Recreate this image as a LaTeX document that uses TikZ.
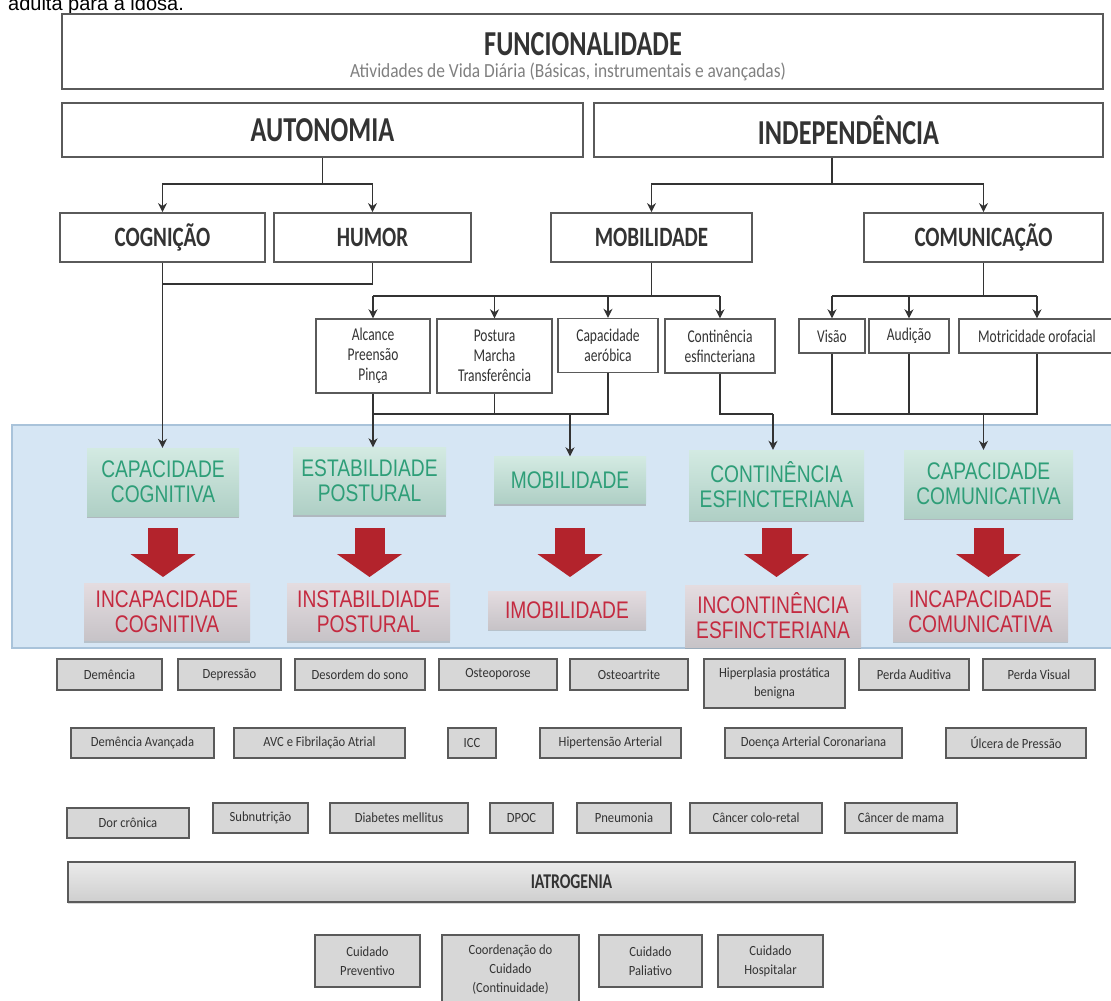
\documentclass[tikz,border=0pt]{standalone}
\usepackage{fontspec}
\setmainfont{Carlito}
\newfontfamily\condf[FakeStretch=0.75]{Carlito}
\newfontfamily\subf[FakeStretch=0.87]{Carlito}
\newfontfamily\grayf[FakeStretch=0.9]{Carlito}
\newfontfamily\narrowf[FakeStretch=0.8]{Liberation Sans}
\newfontfamily\arialf{Liberation Sans}
\usetikzlibrary{shadows,arrows.meta}
\definecolor{edge}{HTML}{5A5A5A}
\definecolor{ink}{HTML}{333333}
\definecolor{bluebg}{HTML}{D6E6F4}
\definecolor{blueedge}{HTML}{A9C3DA}
\definecolor{grntxt}{HTML}{2E9E78}
\definecolor{grntop}{HTML}{D3EAE2}
\definecolor{grnbot}{HTML}{AFCFC5}
\definecolor{redtxt}{HTML}{C42A40}
\definecolor{redtop}{HTML}{E4DCE0}
\definecolor{redbot}{HTML}{C7C3C7}
\definecolor{arrred}{HTML}{B3232C}
\definecolor{graybox}{HTML}{D7D7D7}
\tikzset{
  tb/.style={draw=edge, line width=1.8pt, fill=white, inner sep=0pt,
    drop shadow={shadow xshift=1.2pt, shadow yshift=-1.2pt, opacity=0.3}},
  hd/.style={font=\condf\fontsize{35}{36}\selectfont\bfseries, text=ink},
  hd2/.style={font=\condf\fontsize{28}{30}\selectfont\bfseries, text=ink},
  sb/.style={draw=edge, line width=1.4pt, fill=white, inner sep=0pt, align=center,
    font=\condf\fontsize{18}{20}\selectfont, text=ink},
  gb/.style={draw=edge, line width=1.7pt, fill=graybox, inner sep=0pt, align=center,
    font=\grayf\fontsize{14}{19}\selectfont, text=ink,
    drop shadow={shadow xshift=1pt, shadow yshift=-1pt, opacity=0.25}},
  grn/.style={inner sep=0pt, top color=grntop, bottom color=grnbot, align=center,
    text=grntxt, font=\narrowf\fontsize{24}{25}\selectfont,
    drop shadow={shadow xshift=0pt, shadow yshift=-2pt, opacity=0.45}},
  rd/.style={inner sep=0pt, top color=redtop, bottom color=redbot, align=center,
    text=redtxt, font=\narrowf\fontsize{24}{25}\selectfont,
    drop shadow={shadow xshift=0pt, shadow yshift=-2pt, opacity=0.35}},
  ln/.style={line width=1.4pt, draw=ink},
  arr/.style={ln, -{Stealth[length=9pt,width=9pt]}},
  barr/.style={line width=30pt, draw=arrred, -{Triangle[width=64pt,length=23pt]}},
}
\begin{document}
\begin{tikzpicture}[x=1pt,y=-1pt]
\useasboundingbox (0,0) rectangle (1111,1001);
% caption fragment
\node[anchor=base west, inner sep=0pt, font=\arialf\fontsize{20}{22}\selectfont] (cap) at (8,10) {adulta para a idosa.};

% top level
\node[tb, minimum width=1041, minimum height=75] (fun) at (582.5,51.5) {};
\node[font=\condf\fontsize{35}{36}\selectfont\bfseries, text=ink, inner sep=0pt] (funT) at (583,44) {FUNCIONALIDADE};
\node[inner sep=0pt, font=\subf\fontsize{20}{22}\selectfont, text=black!50] (funS) at (568,72) {Atividades de Vida Diária (Básicas, instrumentais e avançadas)};

\node[tb, hd, minimum width=521, minimum height=54] (auto) at (322.5,130) {AUTONOMIA};
\node[tb, hd, minimum width=509, minimum height=54] (indep) at (848.5,130) {INDEPENDÊNCIA};

\node[tb, hd2, minimum width=205, minimum height=49] (cog) at (162.5,237.5) {COGNIÇÃO};
\node[tb, hd2, minimum width=197, minimum height=49] (hum) at (372.5,237.5) {HUMOR};
\node[tb, hd2, minimum width=201, minimum height=49] (mob) at (651.5,237.5) {MOBILIDADE};
\node[tb, hd2, minimum width=239, minimum height=49] (com) at (983.5,237.5) {COMUNICAÇÃO};

% sub boxes
\node[sb, minimum width=114, minimum height=74] (alc) at (373,356) {Alcance\\Preensão\\Pinça};
\node[sb, minimum width=115, minimum height=74] (pos) at (494.5,356) {Postura\\Marcha\\Transferência};
\node[sb, minimum width=100, minimum height=54] (aer) at (608,345.5) {Capacidade\\aeróbica};
\node[sb, minimum width=110, minimum height=54] (cont) at (720,346) {Continência\\esfincteriana};
\node[sb, minimum width=66, minimum height=34] (vis) at (832,336) {Visão};
\node[sb, minimum width=80, minimum height=34] (aud) at (909,336) {Audição};
\node[sb, minimum width=156, minimum height=34] (mot) at (1037,336) {Motricidade orofacial};

% blue band
\fill[bluebg, draw=blueedge, line width=1.2pt] (12,425) rectangle (1113,648);

\node[grn, minimum width=152, minimum height=68] (capcog) at (163,482) {CAPACIDADE\\COGNITIVA};
\node[grn, minimum width=153, minimum height=67] (estab) at (369.5,481) {ESTABILDIADE\\POSTURAL};
\node[grn, minimum width=152, minimum height=47] (mobg) at (570,480) {MOBILIDADE};
\node[grn, minimum width=175, minimum height=70] (contg) at (776.5,485) {CONTINÊNCIA\\ESFINCTERIANA};
\node[grn, minimum width=169, minimum height=68] (capcom) at (988.5,484) {CAPACIDADE\\COMUNICATIVA};

\node[rd, minimum width=166, minimum height=57] (inccog) at (167,612) {INCAPACIDADE\\COGNITIVA};
\node[rd, minimum width=163, minimum height=57] (instab) at (368.5,612) {INSTABILDIADE\\POSTURAL};
\node[rd, minimum width=158, minimum height=38] (imob) at (567,610) {IMOBILIDADE};
\node[rd, minimum width=176, minimum height=62] (incont) at (773,616) {INCONTINÊNCIA\\ESFINCTERIANA};
\node[rd, minimum width=175, minimum height=58] (inccom) at (980.5,612) {INCAPACIDADE\\COMUNICATIVA};

% red block arrows
\coordinate (y528) at (0,528);
\coordinate (y577) at (0,577);
\foreach \a in {capcog, estab, mobg, contg, capcom}
  \draw[barr] (\a.south |- y528) -- (\a.south |- y577);

% gray boxes row 1
\node[gb, minimum width=105, minimum height=31] (dem) at (109.5,674.5) {Demência};
\node[gb, minimum width=103, minimum height=31] (dep) at (229.5,674.5) {Depressão};
\node[gb, minimum width=130, minimum height=31] (dso) at (360,674.5) {Desordem do sono};
\node[gb, minimum width=118, minimum height=31] (ostp) at (498,674.5) {Osteoporose};
\node[gb, minimum width=118, minimum height=31] (osta) at (629,674.5) {Osteoartrite};
\node[gb, minimum width=141, minimum height=49] (hpb) at (774.5,683.5) {Hiperplasia prostática\\benigna};
\node[gb, minimum width=110, minimum height=31] (paud) at (914,674.5) {Perda Auditiva};
\node[gb, minimum width=112, minimum height=31] (pvis) at (1039,674.5) {Perda Visual};

% row 2
\node[gb, minimum width=143, minimum height=30] (dav) at (142.5,743) {Demência Avançada};
\node[gb, minimum width=171, minimum height=30] (avc) at (319.5,743) {AVC e Fibrilação Atrial};
\node[gb, minimum width=48, minimum height=30] (icc) at (472,743) {ICC};
\node[gb, minimum width=141, minimum height=30] (hip) at (610.5,743) {Hipertensão Arterial};
\node[gb, minimum width=177, minimum height=30] (dac) at (813.5,743) {Doença Arterial Coronariana};
\node[gb, minimum width=140, minimum height=30] (ulc) at (1016,743) {Úlcera de Pressão};

% row 3
\node[gb, minimum width=122, minimum height=30] (dor) at (128,823) {Dor crônica};
\node[gb, minimum width=95, minimum height=30] (sub) at (260.5,818) {Subnutrição};
\node[gb, minimum width=138, minimum height=30] (diab) at (399,818) {Diabetes mellitus};
\node[gb, minimum width=63, minimum height=30] (dpoc) at (521.5,818) {DPOC};
\node[gb, minimum width=94, minimum height=30] (pneu) at (624,818) {Pneumonia};
\node[gb, minimum width=132, minimum height=30] (ccr) at (756,818) {Câncer colo-retal};
\node[gb, minimum width=112, minimum height=30] (cma) at (901,818) {Câncer de mama};

% iatrogenia
\node[draw=edge, line width=1.8pt, top color=gray!16, bottom color=gray!38, inner sep=0pt,
  minimum width=1007, minimum height=40, font=\condf\fontsize{21}{22}\selectfont\bfseries, text=ink,
  drop shadow={shadow xshift=0pt, shadow yshift=-1.5pt, opacity=0.3}] (iat) at (571.5,882) {IATROGENIA};

% bottom boxes
\node[gb, minimum width=105, minimum height=52] (cprev) at (367.5,961) {Cuidado\\Preventivo};
\node[gb, minimum width=137, minimum height=70] (ccoo) at (510.5,970) {Coordenação do\\Cuidado\\(Continuidade)};
\node[gb, minimum width=103, minimum height=52] (cpal) at (650.5,961) {Cuidado\\Paliativo};
\node[gb, minimum width=105, minimum height=52] (chos) at (770.5,961) {Cuidado\\Hospitalar};

% connectors
\coordinate (y184) at (0,184);
\coordinate (y284) at (0,284);
\coordinate (y296) at (0,296);
\coordinate (y414) at (0,414);
\coordinate (c773) at (773,414);

\draw[ln] (auto.south) -- (auto.south |- y184);
\draw[arr] (auto.south |- y184) -| (cog.north);
\draw[arr] (auto.south |- y184) -| (hum.north);
\draw[ln] (indep.south -| 832,0) -- (832,184);
\draw[arr] (832,184) -| (mob.north);
\draw[arr] (832,184) -| (com.north);

\draw[ln] (cog.south) -- (cog.south |- y284) -| (hum.south);
\draw[arr] (cog.south) -- (cog.south |- capcog.north);

\draw[ln] (mob.south) -- (mob.south |- y296);
\draw[ln] (alc.north |- y296) -- (cont.north |- y296);
\foreach \n in {alc,pos,aer,cont} \draw[arr] (\n.north |- y296) -- (\n.north);

\draw[ln] (com.south) -- (com.south |- y296);
\draw[ln] (vis.north |- y296) -- (mot.north |- y296);
\foreach \n in {vis,aud,mot} \draw[arr] (\n.north |- y296) -- (\n.north);

\draw[ln] (alc.south) -- (alc.south |- y414) -| (aer.south);
\draw[ln] (pos.south) -- (pos.south |- y414);
\draw[arr] (alc.south) -- (alc.south |- estab.north);
\draw[arr] (mobg.north |- y414) -- (mobg.north);

\draw[ln] (cont.south) -- (cont.south |- y414) -- (c773);
\draw[arr] (c773) -- (c773 |- contg.north);

\draw[ln] (vis.south) -- (vis.south |- y414) -| (mot.south);
\draw[ln] (aud.south) -- (aud.south |- y414);
\draw[arr] (com.south |- y414) -- (com.south |- capcom.north);
\end{tikzpicture}
\end{document}
